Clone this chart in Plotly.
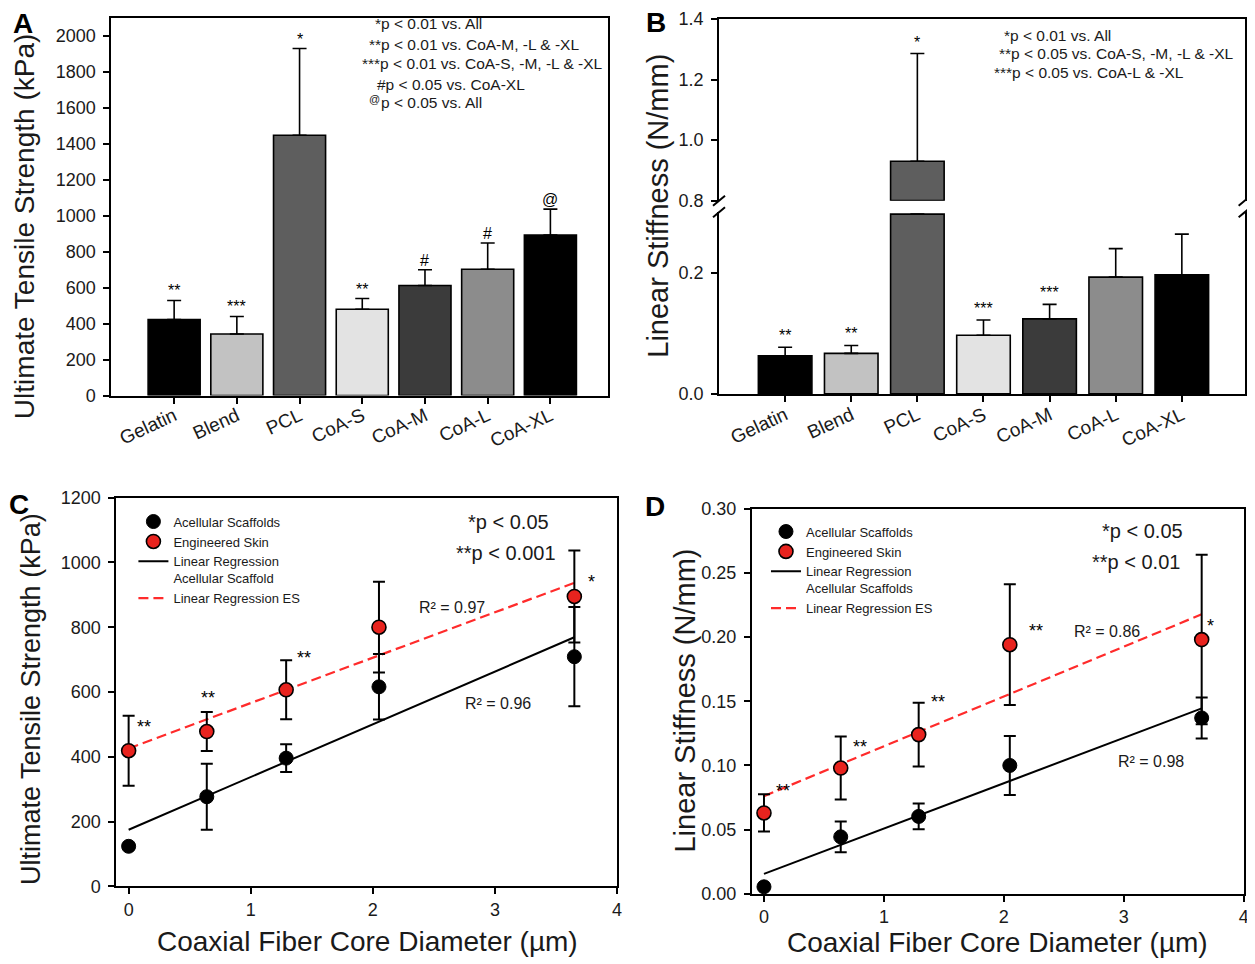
import plotly.graph_objects as go

W, H = 1255, 964
FONT = "Liberation Sans, Arial, sans-serif"

# the page is photographed with a small offset/scale; positions below are given
# in photographed pixels and mapped back to paper fractions here
OX, SX = 7.5, 0.9967
OY, SY = 17.3, 0.9795


def fx(p):
    return ((p - OX) / SX) / W


def fy(p):
    return 1 - ((p - OY) / SY) / H


def dom(a, b):
    return [max(0.0, min(1.0, a)), max(0.0, min(1.0, b))]


# ---------------- data ----------------
categories = ["Gelatin", "Blend", "PCL", "CoA-S", "CoA-M", "CoA-L", "CoA-XL"]
bar_colors = ["#000000", "#c2c2c2", "#5e5e5e", "#e3e3e3", "#3b3b3b", "#8c8c8c", "#000000"]

uts_mean = [423, 343, 1448, 480, 612, 703, 893]
uts_err = [106, 97, 482, 60, 88, 146, 144]
uts_marks = ["**", "***", "*", "**", "#", "#", "@"]

stiff_mean = [0.063, 0.067, 0.930, 0.097, 0.124, 0.193, 0.197]
stiff_err = [0.014, 0.013, 0.356, 0.025, 0.024, 0.047, 0.067]
stiff_marks = ["**", "**", "*", "***", "***", "", ""]
stiff_break = [0.3, 0.8]  # lower axis top, upper axis bottom

core_diam = [0, 0.64, 1.29, 2.05, 3.65]
uts_acell = [124, 277, 396, 616, 709]
uts_acell_err = [9, 102, 43, 101, 153]
uts_es = [419, 478, 607, 800, 895]
uts_es_err = [108, 60, 91, 140, 142]
fit_x = [0, 3.65]
uts_acell_fit = [175, 769]
uts_es_fit = [426, 937]
uts_es_marks = ["**", "**", "**", "", "*"]

stiff_acell = [0.0055, 0.0444, 0.0603, 0.100, 0.137]
stiff_acell_err = [0.002, 0.012, 0.010, 0.023, 0.016]
stiff_es = [0.063, 0.098, 0.124, 0.194, 0.198]
stiff_es_err = [0.0145, 0.0245, 0.0248, 0.047, 0.066]
stiff_acell_fit = [0.0156, 0.1444]
stiff_es_fit = [0.0761, 0.2177]
stiff_es_marks = ["**", "**", "**", "**", "*"]

# ---------------- figure ----------------
fig = go.Figure()
err_style = dict(type="data", symmetric=False, color="black", thickness=1.6, width=7)

# Panel A
fig.add_trace(go.Bar(
    x=categories, y=uts_mean, width=0.83,
    marker=dict(color=bar_colors, line=dict(color="black", width=1.6)),
    error_y=dict(array=uts_err, arrayminus=[0] * len(uts_err), **err_style),
    xaxis="x", yaxis="y", showlegend=False))

# Panel B lower part (values beyond the break are cut at the break)
lo_top, up_bot = stiff_break
lower_y = [min(v, lo_top - 0.003) for v in stiff_mean]
lower_err = [e if v < lo_top else 0 for v, e in zip(stiff_mean, stiff_err)]
fig.add_trace(go.Bar(
    x=categories, y=lower_y, width=0.81,
    marker=dict(color=bar_colors, line=dict(color="black", width=1.6)),
    error_y=dict(array=lower_err, arrayminus=[0] * len(lower_err), **err_style),
    xaxis="x2", yaxis="y2", showlegend=False))
# Panel B upper part
up_cats = [c for c, v in zip(categories, stiff_mean) if v > up_bot]
up_vals = [v - up_bot for v in stiff_mean if v > up_bot]
up_err = [e for v, e in zip(stiff_mean, stiff_err) if v > up_bot]
up_cols = [col for v, col in zip(stiff_mean, bar_colors) if v > up_bot]
fig.add_trace(go.Bar(
    x=up_cats, y=up_vals, base=up_bot, width=0.81,
    marker=dict(color=up_cols, line=dict(color="black", width=1.6)),
    error_y=dict(array=up_err, arrayminus=[0] * len(up_err), **err_style),
    xaxis="x3", yaxis="y3", showlegend=False))

RED = "#e8231e"
DASH_RED = "#ff2b2b"


def scatter_panel(xa, ya, acell, acell_err, es, es_err, acell_fit, es_fit, legend, reg_name):
    fig.add_trace(go.Scatter(
        x=fit_x, y=acell_fit, mode="lines", line=dict(color="black", width=2),
        name=reg_name, legend=legend, legendrank=3, xaxis=xa, yaxis=ya))
    fig.add_trace(go.Scatter(
        x=fit_x, y=es_fit, mode="lines", line=dict(color=DASH_RED, width=2.2, dash="10px,5px"),
        name="Linear Regression ES", legend=legend, legendrank=4, xaxis=xa, yaxis=ya))
    fig.add_trace(go.Scatter(
        x=core_diam, y=acell, mode="markers",
        marker=dict(color="black", size=14, line=dict(color="black", width=1)),
        error_y=dict(type="data", array=acell_err, color="black", thickness=2, width=6),
        name="Acellular Scaffolds", legend=legend, legendrank=1, xaxis=xa, yaxis=ya))
    fig.add_trace(go.Scatter(
        x=core_diam, y=es, mode="markers",
        marker=dict(color=RED, size=14, line=dict(color="black", width=1.6)),
        error_y=dict(type="data", array=es_err, color="black", thickness=2, width=6),
        name="Engineered Skin", legend=legend, legendrank=2, xaxis=xa, yaxis=ya))


scatter_panel("x4", "y4", uts_acell, uts_acell_err, uts_es, uts_es_err,
              uts_acell_fit, uts_es_fit, "legend", "Linear Regression<br>Acellular Scaffold")
scatter_panel("x5", "y5", stiff_acell, stiff_acell_err, stiff_es, stiff_es_err,
              stiff_acell_fit, stiff_es_fit, "legend2", "Linear Regression<br>Acellular Scaffolds")

# ---------------- axes ----------------
tickfont = dict(family=FONT, size=18, color="#1a1a1a")
base_ax = dict(showline=True, linecolor="black", linewidth=2, showgrid=False, zeroline=False,
               ticks="outside", ticklen=6, tickwidth=2, tickcolor="black", tickfont=tickfont)

layout_axes = dict(
    xaxis=dict(base_ax, domain=dom(fx(111), fx(608)), anchor="y", type="category",
               range=[-1.0, 6.92], mirror=True, tickangle=-25, ticklabelstandoff=-6,
               tickfont=dict(family=FONT, size=19, color="#1a1a1a")),
    yaxis=dict(base_ax, domain=dom(fy(395), fy(14)), anchor="x", range=[0, 2100],
               dtick=200, mirror=True, ticklabelstandoff=4),
    xaxis2=dict(base_ax, domain=dom(fx(719), fx(1245)), anchor="y2", type="category",
                range=[-1.0, 6.95], tickangle=-25, ticklabelstandoff=-5,
                tickfont=dict(family=FONT, size=19, color="#1a1a1a")),
    yaxis2=dict(base_ax, domain=dom(fy(393.3), fy(211.7)), anchor="x2", range=[0, lo_top],
                tickvals=[0, 0.2], ticktext=["0.0", "0.2"], mirror=True, ticklabelstandoff=4),
    xaxis3=dict(base_ax, domain=dom(fx(719), fx(1245)), anchor="y3", type="category",
                matches="x2", side="top", ticks="", showticklabels=False,
                categoryorder="array", categoryarray=categories),
    yaxis3=dict(base_ax, domain=dom(fy(200), fy(18.3)), anchor="x3", range=[up_bot, 1.4],
                tickvals=[0.8, 1.0, 1.2, 1.4], ticktext=["0.8", "1.0", "1.2", "1.4"],
                mirror=True, ticklabelstandoff=4),
    xaxis4=dict(base_ax, domain=dom(fx(116), fx(617)), anchor="y4", range=[-0.1, 4],
                dtick=1, mirror=True),
    yaxis4=dict(base_ax, domain=dom(fy(886), fy(497)), anchor="x4", range=[0, 1200],
                dtick=200, mirror=True, ticklabelstandoff=4),
    xaxis5=dict(base_ax, domain=dom(fx(752), fx(1244)), anchor="y5", range=[-0.1, 4],
                dtick=1, mirror=True),
    yaxis5=dict(base_ax, domain=dom(fy(893.4), fy(508)), anchor="x5", range=[0, 0.3],
                dtick=0.05, tickformat=".2f", mirror=True, ticklabelstandoff=4),
)

# ---------------- annotations ----------------
ann = []


def text(xp, yp, t, size, xanchor="center", yanchor="middle", angle=0, bold=False, color="#1a1a1a"):
    if bold:
        t = "<b>" + t + "</b>"
    ann.append(dict(x=fx(xp), y=fy(yp), xref="paper", yref="paper", text=t, showarrow=False,
                    xanchor=xanchor, yanchor=yanchor, textangle=angle,
                    font=dict(family=FONT, size=size, color=color)))


# panel letters
text(23, 23, "A", 28, bold=True, color="black")
text(656, 22, "B", 28, bold=True, color="black")
text(19, 504, "C", 28, bold=True, color="black")
text(655, 506, "D", 28, bold=True, color="black")

# axis titles
text(24, 226, "Ultimate Tensile Strength (kPa)", 28, angle=-90)
text(658, 205, "Linear Stiffness (N/mm)", 29, angle=-90)
text(30, 698, "Ultimate Tensile Strength (kPa)", 27, angle=-90)
text(684, 700, "Linear Stiffness (N/mm)", 29, angle=-90)
text(367, 941, "Coaxial Fiber Core Diameter (\u00b5m)", 28)
text(998, 942, "Coaxial Fiber Core Diameter (\u00b5m)", 28)

# significance legends
statsA = ["*p &lt; 0.01 vs. All",
          "**p &lt; 0.01 vs. CoA-M, -L & -XL",
          "***p &lt; 0.01 vs. CoA-S, -M, -L & -XL",
          "#p &lt; 0.05 vs. CoA-XL",
          "p &lt; 0.05 vs. All"]
for s, xs, ys in zip(statsA, [373, 367, 360, 375, 379], [23.3, 44.3, 63.3, 84, 101.7]):
    text(xs, ys, s, 15.5, xanchor="left")
text(367, 98, "@", 11, xanchor="left")
statsB = ["*p &lt; 0.01 vs. All",
          "**p &lt; 0.05 vs. CoA-S, -M, -L & -XL",
          "***p &lt; 0.05 vs. CoA-L & -XL"]
for s, xs, ys in zip(statsB, [1002, 997, 992], [35, 53.3, 71.7]):
    text(xs, ys, s, 15.5, xanchor="left")

text(508, 521, "*p &lt; 0.05", 20)
text(506, 552, "**p &lt; 0.001", 20)
text(1143, 530, "*p &lt; 0.05", 20)
text(1136, 561, "**p &lt; 0.01", 20)

# R^2 labels
text(452, 607, "R\u00b2 = 0.97", 16)
text(498, 703, "R\u00b2 = 0.96", 16)
text(1107, 631, "R\u00b2 = 0.86", 16)
text(1151, 761, "R\u00b2 = 0.98", 16)

# marks over bars
for c, m, e, v in zip(categories, uts_marks, uts_err, uts_mean):
    ann.append(dict(x=c, y=v + e, xref="x", yref="y", text=m, showarrow=False,
                    yanchor="bottom", yshift=-1, font=dict(family=FONT, size=16, color="black")))
for c, m, e, v in zip(categories, stiff_marks, stiff_err, stiff_mean):
    if not m:
        continue
    if v > up_bot:
        xr, yr = "x3", "y3"
    else:
        xr, yr = "x2", "y2"
    ann.append(dict(x=c, y=v + e, xref=xr, yref=yr, text=m, showarrow=False,
                    yanchor="bottom", yshift=1, font=dict(family=FONT, size=16, color="black")))

# marks next to engineered-skin points (pixel offsets from the point)
for xv, yv, m, sx, sy in zip(core_diam, uts_es, uts_es_marks,
                             [15, 1, 18, 0, 17], [24, 34, 32, 0, 14]):
    if m:
        ann.append(dict(x=xv, y=yv, xref="x4", yref="y4", text=m, showarrow=False,
                        xshift=sx, yshift=sy, font=dict(family=FONT, size=18, color="black")))
for xv, yv, m, sx, sy in zip(core_diam, stiff_es, stiff_es_marks,
                             [19, 19, 19, 26, 9], [22, 21, 33, 14, 14]):
    if m:
        ann.append(dict(x=xv, y=yv, xref="x5", yref="y5", text=m, showarrow=False,
                        xshift=sx, yshift=sy, font=dict(family=FONT, size=18, color="black")))

# axis break marks for panel B
shapes = []
for xb in (719, 1245):
    for yb in (200, 211.7):
        shapes.append(dict(type="line", xref="paper", yref="paper",
                           x0=fx(xb - 6), y0=fy(yb + 5), x1=fx(xb + 6), y1=fy(yb - 5),
                           line=dict(color="black", width=2)))

legend_style = dict(xanchor="left", yanchor="top", bgcolor="rgba(0,0,0,0)", borderwidth=0,
                    font=dict(family=FONT, size=13, color="#1a1a1a"), valign="top",
                    tracegroupgap=0, itemwidth=30)

fig.update_layout(
    width=W, height=H,
    margin=dict(l=0, r=0, t=0, b=0),
    paper_bgcolor="white", plot_bgcolor="white",
    font=dict(family=FONT, color="#1a1a1a"),
    annotations=ann, shapes=shapes,
    legend=dict(legend_style, x=fx(133), y=fy(506)),
    legend2=dict(legend_style, x=fx(766), y=fy(516)),
    **layout_axes,
)

fig.write_html("out.html")
